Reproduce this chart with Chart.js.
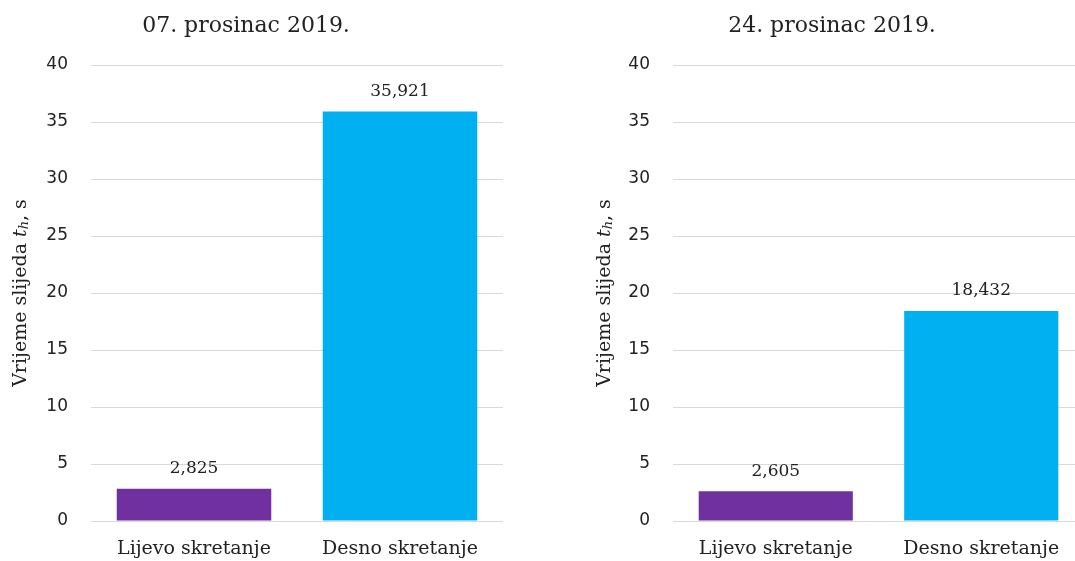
<!DOCTYPE html>
<html>
<head>
<meta charset="utf-8">
<script src="https://cdn.jsdelivr.net/npm/chart.js@4/dist/chart.umd.min.js"></script>
<style>
  html,body{margin:0;padding:0;background:#fff;overflow:hidden;}
  #wrap{position:relative;width:1075px;height:561px;overflow:hidden;}
  .box{position:absolute;top:0;height:561px;}
</style>
</head>
<body>
<div id="wrap">
  <div class="box" style="left:0;width:510px"><canvas id="lijevo"></canvas></div>
  <div class="box" style="left:580px;width:504px"><canvas id="desno"></canvas></div>
</div>
<script>
const kategorije = ["Lijevo skretanje","Desno skretanje"];
const naslovi = ["07. prosinac 2019.","24. prosinac 2019."];
const vrijeme07 = [2.825, 35.921];
const vrijeme24 = [2.605, 18.432];
const boje = ["#7030a0","#00b0f0"];
const yMax = 40, yKorak = 5;

const serif = "'DejaVu Serif', serif";
const sans = "'DejaVu Sans', sans-serif";
const tekst = "#222";

/* ---------- oznake vrijednosti + naslov + naslov osi ---------- */
const crtezPlugin = {
  id:"crtez",
  afterDatasetsDraw(chart, args, opts){
    const ctx = chart.ctx, ca = chart.chartArea;
    ctx.save();
    // vrijednosti iznad stupaca
    ctx.font = "17px " + serif;
    ctx.fillStyle = tekst;
    ctx.textAlign = "center";
    ctx.textBaseline = "middle";
    chart.getDatasetMeta(0).data.forEach((bar,i)=>{
      const v = chart.data.datasets[0].data[i];
      ctx.fillText(v.toFixed(3).replace(".",","), bar.x, bar.y - 20);
    });
    // naslov
    ctx.font = "22px " + serif;
    ctx.fillText(opts.naslov, opts.naslovX, 26);
    // naslov osi y: Vrijeme slijeda t_h, s
    ctx.translate(opts.osX, (ca.top + ca.bottom)/2);
    ctx.rotate(-Math.PI/2);
    const dijelovi = [
      {t:"Vrijeme slijeda ", f:"19px " + serif, dy:0},
      {t:"t", f:"italic 19px " + serif, dy:0},
      {t:"h", f:"italic 13px " + serif, dy:4},
      {t:", s", f:"19px " + serif, dy:0}
    ];
    let ukupno = 0;
    dijelovi.forEach(d=>{ ctx.font=d.f; ukupno += ctx.measureText(d.t).width; });
    let x = -ukupno/2;
    ctx.textAlign = "left";
    dijelovi.forEach(d=>{
      ctx.font = d.f;
      ctx.fillText(d.t, x, d.dy);
      x += ctx.measureText(d.t).width;
    });
    ctx.restore();
  }
};

function napraviGraf(id, podaci, naslov, lijevo, desno, naslovX, osX){
  return new Chart(document.getElementById(id), {
    type:"bar",
    data:{labels:kategorije, datasets:[{data:podaci, backgroundColor:boje,
      barPercentage:0.75, categoryPercentage:1}]},
    options:{
      responsive:true, maintainAspectRatio:false, animation:false,
      layout:{padding:{top:65, right:desno, left:0, bottom:0}},
      plugins:{legend:{display:false}, tooltip:{enabled:false},
        crtez:{naslov, naslovX, osX}},
      scales:{
        x:{
          grid:{display:false, drawTicks:false},
          border:{display:false},
          ticks:{font:{family:serif, size:19}, color:tekst, padding:17, maxRotation:0},
          afterFit(s){ s.height = 40; }
        },
        y:{
          min:0, max:yMax,
          ticks:{stepSize:yKorak, font:{family:sans, size:17}, color:tekst, padding:23},
          grid:{color:"#d9d9d9", lineWidth:1, drawTicks:false},
          border:{display:false},
          afterFit(s){ s.width = lijevo; }
        }
      }
    },
    plugins:[crtezPlugin]
  });
}

napraviGraf("lijevo", vrijeme07, naslovi[0], 91, 7, 246, 21);
napraviGraf("desno", vrijeme24, naslovi[1], 93, 0, 252, 25);
</script>
</body>
</html>
